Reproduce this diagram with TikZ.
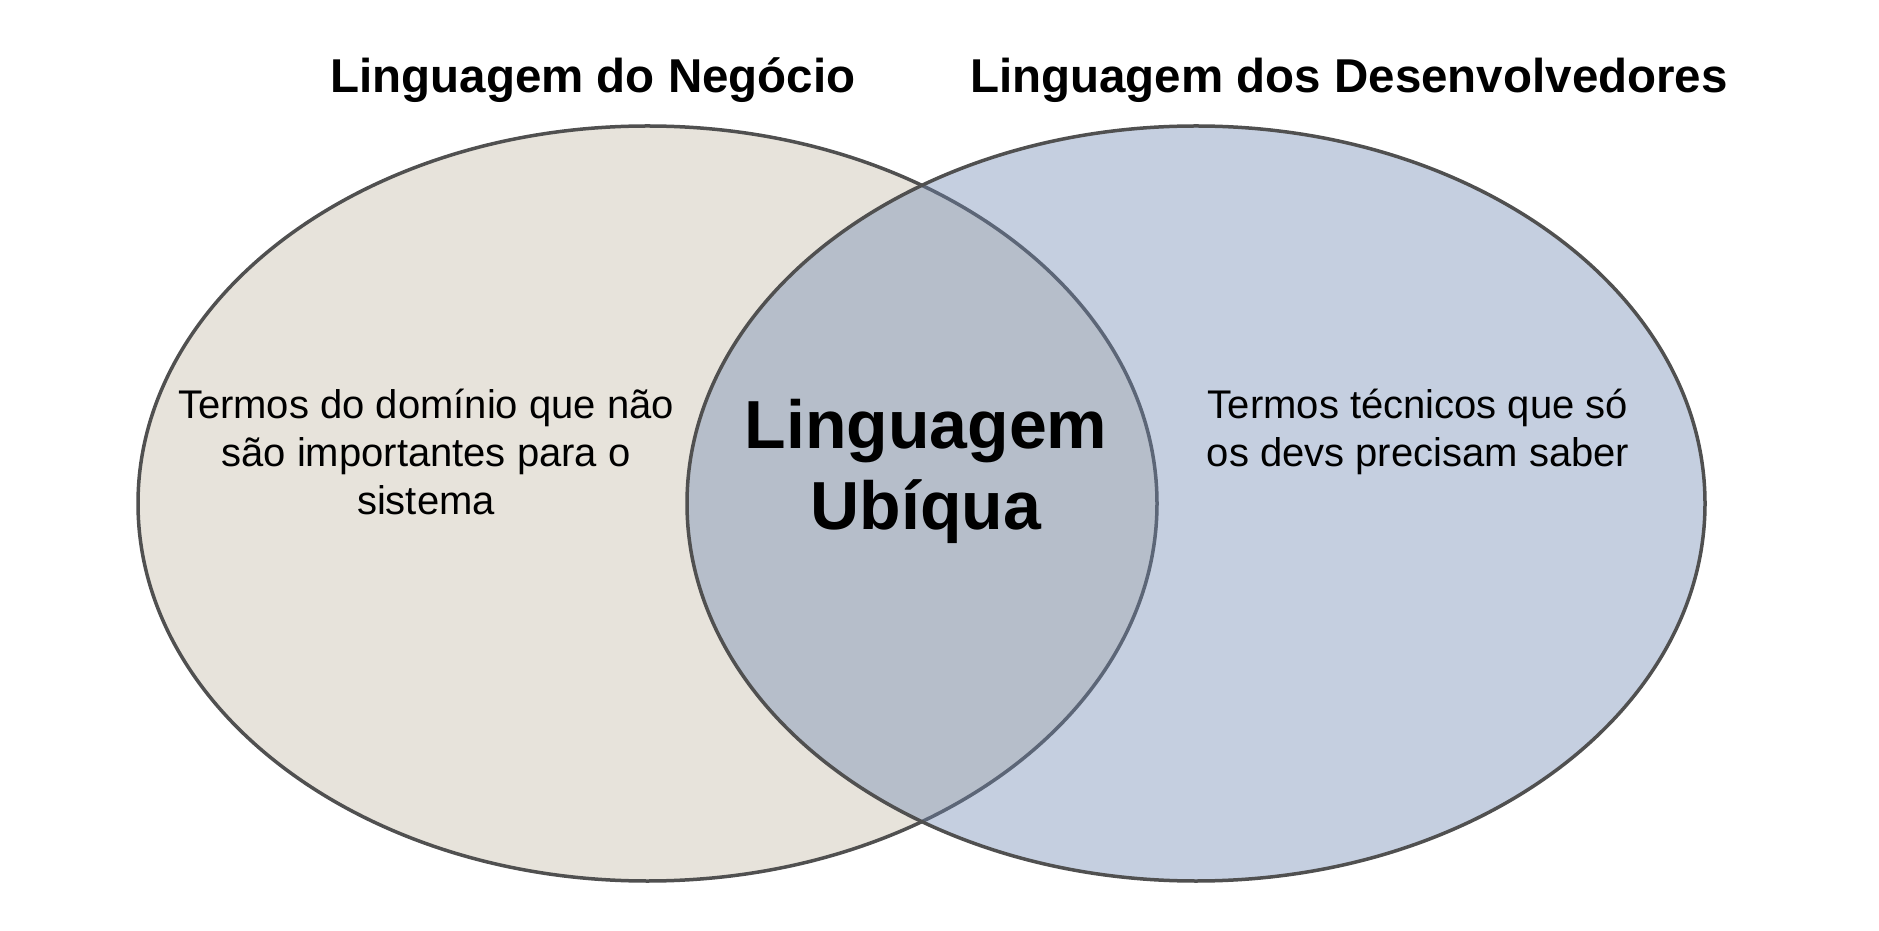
\documentclass[tikz,border=0pt]{standalone}
\usepackage{fontspec}
\setmainfont{Liberation Sans}
\usepackage{xcolor}
\usetikzlibrary{positioning}
\definecolor{negocio}{RGB}{231,227,219}
\definecolor{devs}{RGB}{110,135,178}
\definecolor{borda}{RGB}{80,80,80}

\begin{document}
\begin{tikzpicture}[x=1pt, y=1pt,
	conjunto/.style={draw=borda, line width=3.5pt},
	titulo/.style={font=\fontsize{47.5}{57}\selectfont\bfseries, anchor=base, inner sep=0pt},
	corpo/.style={font=\fontsize{40}{48}\selectfont, align=center, anchor=base, inner sep=0pt}]
		\useasboundingbox (0,0) rectangle (1879,930);
		\coordinate (N) at (647.5,426.5);
		\coordinate (D) at (1196,426.5);
		% conjuntos
		\draw[conjunto, fill=negocio] (N) ellipse [x radius=509.5, y radius=377.5];
		\draw[conjunto, fill=devs, fill opacity=0.4] (D) ellipse [x radius=509, y radius=377.5];
		% titulos
		\node[titulo] (tNeg) at (593,837) {Linguagem do Negócio};
		\node[titulo] (tDev) at (1349,837) {Linguagem dos Desenvolvedores};
		% textos (base = ultima linha)
		\node[corpo] (termosNeg) at (426,415) {Termos do domínio que não\\são importantes para o\\sistema};
		\node[corpo] (termosDev) at (1418,463) {Termos técnicos que só\\os devs precisam saber};
		\node[corpo, font=\fontsize{68}{81}\selectfont\bfseries] (ubiqua) at (926,400) {Linguagem\\Ubíqua};
	\end{tikzpicture}
\end{document}
